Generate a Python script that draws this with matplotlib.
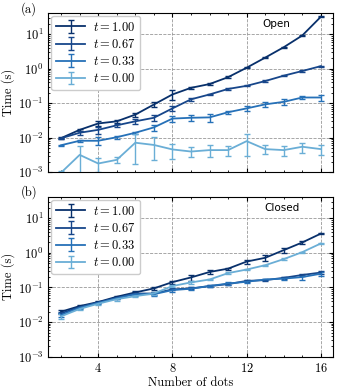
import numpy as np
from matplotlib import pyplot as plt
from matplotlib.ticker import MultipleLocator, LogLocator, NullFormatter

plt.rcParams['font.family'] = 'serif'
plt.rcParams['font.serif'] = ['cmr10']
plt.rcParams['mathtext.fontset'] = 'cm'
plt.rcParams['axes.formatter.use_mathtext'] = True
plt.rcParams['font.size'] = 9

n_dots = np.arange(2, 17)
t_labels = ["1.00", "0.67", "0.33", "0.00"]
colores = ['#08306b', '#17468a', '#2671b8', '#6aaed6']

# panel (a): open
abierto = [
    [0.0098, 0.017, 0.026, 0.030, 0.047, 0.092, 0.18, 0.28, 0.36, 0.57, 1.07, 2.1, 4.2, 9.2, 32.0],
    [0.0097, 0.014, 0.017, 0.023, 0.030, 0.038, 0.071, 0.13, 0.18, 0.26, 0.32, 0.44, 0.63, 0.86, 1.19],
    [0.0061, 0.0082, 0.0082, 0.0104, 0.014, 0.020, 0.036, 0.038, 0.039, 0.055, 0.071, 0.093, 0.11, 0.147, 0.147],
    [0.00098, 0.0032, 0.0018, 0.0023, 0.0072, 0.0062, 0.0046, 0.0040, 0.0044, 0.0044, 0.0080, 0.0047, 0.0044, 0.0055, 0.0047],
]
abierto_err = [
    [0.0005, 0.001, 0.004, 0.003, 0.006, 0.015, 0.055, 0.02, 0.02, 0.04, 0.05, 0.1, 0.2, 0.4, 1.0],
    [0.0004, 0.002, 0.004, 0.002, 0.005, 0.007, 0.012, 0.01, 0.01, 0.015, 0.01, 0.02, 0.02, 0.04, 0.05],
    [0.0002, 0.0005, 0.002, 0.001, 0.001, 0.004, 0.008, 0.008, 0.01, 0.005, 0.012, 0.015, 0.02, 0.015, 0.03],
    [0.0001, 0.0025, 0.0008, 0.0004, 0.0055, 0.004, 0.0022, 0.0013, 0.0017, 0.0014, 0.005, 0.0014, 0.0014, 0.0018, 0.0016],
]

# panel (b): closed
cerrado = [
    [0.020, 0.029, 0.038, 0.054, 0.072, 0.094, 0.143, 0.195, 0.28, 0.35, 0.56, 0.72, 1.2, 2.0, 3.6],
    [0.018, 0.027, 0.037, 0.050, 0.067, 0.067, 0.088, 0.094, 0.11, 0.125, 0.155, 0.163, 0.19, 0.23, 0.27],
    [0.016, 0.026, 0.036, 0.049, 0.064, 0.064, 0.084, 0.092, 0.11, 0.13, 0.146, 0.17, 0.18, 0.20, 0.25],
    [0.0147, 0.024, 0.034, 0.046, 0.056, 0.067, 0.11, 0.14, 0.17, 0.26, 0.33, 0.44, 0.66, 1.05, 1.87],
]
cerrado_err = [
    [0.002, 0.002, 0.002, 0.004, 0.005, 0.01, 0.015, 0.04, 0.04, 0.02, 0.08, 0.15, 0.2, 0.25, 0.2],
    [0.001, 0.002, 0.002, 0.003, 0.004, 0.005, 0.006, 0.006, 0.008, 0.008, 0.01, 0.01, 0.015, 0.02, 0.03],
    [0.002, 0.002, 0.002, 0.004, 0.008, 0.006, 0.008, 0.008, 0.01, 0.01, 0.015, 0.01, 0.015, 0.03, 0.03],
    [0.002, 0.002, 0.002, 0.004, 0.004, 0.006, 0.008, 0.01, 0.01, 0.015, 0.02, 0.02, 0.03, 0.04, 0.1],
]

fig = plt.figure(figsize=(3.39, 3.91), dpi=100)
ax1 = fig.add_axes([0.142, 0.5593, 0.840, 0.4082])
ax2 = fig.add_axes([0.142, 0.0877, 0.840, 0.4093])

for ax, datos, errores, nombre in [(ax1, abierto, abierto_err, "Open"),
                                   (ax2, cerrado, cerrado_err, "Closed")]:
    for k in range(4):
        ax.errorbar(n_dots, datos[k], yerr=errores[k], color=colores[k],
                    lw=1.3, capsize=2.2, capthick=1.0, elinewidth=1.0,
                    label=r"$t = " + t_labels[k] + "$")
    ax.set_yscale('log')
    ax.set_ylim(1e-3, 42)
    ax.set_xlim(1.3, 16.65)
    ax.xaxis.set_major_locator(MultipleLocator(4))
    ax.xaxis.set_minor_locator(MultipleLocator(1))
    ax.yaxis.set_major_locator(LogLocator(base=10, numticks=10))
    ax.yaxis.set_minor_locator(LogLocator(base=10, subs=np.arange(2, 10), numticks=20))
    ax.yaxis.set_minor_formatter(NullFormatter())
    ax.tick_params(which='both', direction='in', top=True, right=True, labelsize=9)
    ax.tick_params(which='major', length=3)
    ax.tick_params(which='minor', length=1.5)
    ax.grid(True, which='major', ls='--', color='0.6', lw=0.6)
    ax.set_ylabel("Time (s)", fontsize=9, labelpad=2)
    ax.legend(loc='upper left', fontsize=9, handlelength=2.3, borderpad=0.4,
              labelspacing=0.33, handletextpad=0.6, borderaxespad=0.25, framealpha=1)
    ax.set_axisbelow(True)

ax1.text(0.80, 0.93, "Open", transform=ax1.transAxes, ha='center', va='center',
         fontsize=7.5, family='DejaVu Sans')
ax2.text(0.82, 0.93, "Closed", transform=ax2.transAxes, ha='center', va='center',
         fontsize=7.5, family='DejaVu Sans')
ax1.tick_params(labelbottom=False)
ax2.set_xlabel("Number of dots", fontsize=9, labelpad=2)

fig.text(0.06, 0.977, "(a)", fontsize=9, va='center')
fig.text(0.06, 0.508, "(b)", fontsize=9, va='center')

plt.savefig("out.png", dpi=100)
